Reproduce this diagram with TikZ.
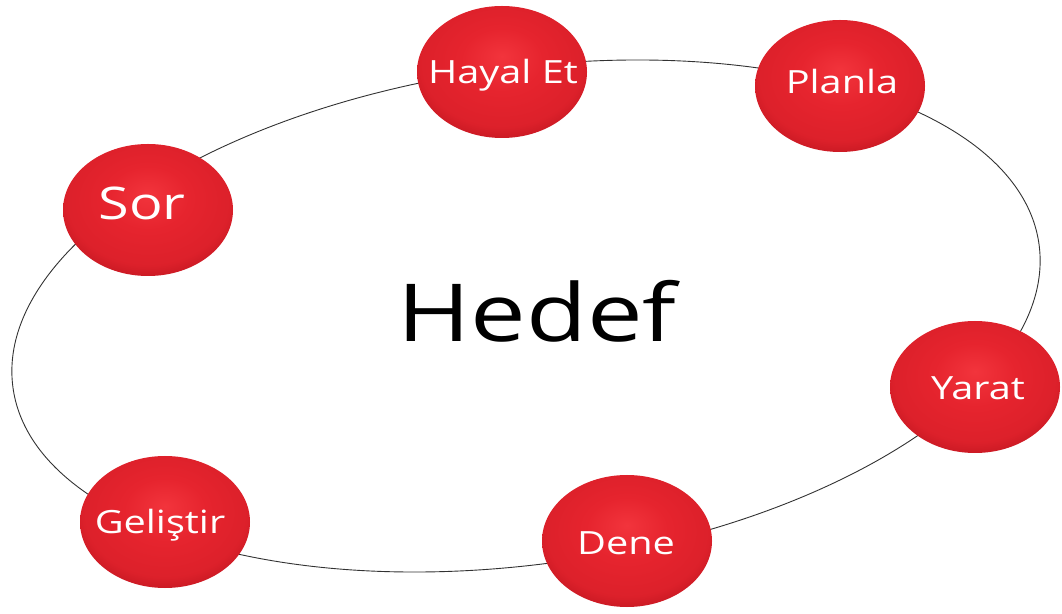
\documentclass[tikz,border=0pt]{standalone}
\usepackage{fontspec}
\setmainfont{Open Sans}
\usetikzlibrary{shapes.geometric}
\definecolor{rlight}{RGB}{242,52,60}
\definecolor{rmid}{RGB}{230,36,46}
\definecolor{rdark}{RGB}{198,24,34}
\definecolor{rdeep}{RGB}{172,18,28}
\definecolor{ringline}{RGB}{50,50,50}
\pgfdeclareradialshading{redsphere}{\pgfpoint{0bp}{6bp}}{color(0bp)=(rlight); color(12bp)=(rmid); color(24bp)=(rmid!70!rdark); color(29bp)=(rdark); color(32bp)=(rdeep); color(50bp)=(rdeep)}
\tikzset{
  sphere/.style={ellipse, draw=none, shading=redsphere, minimum width=170pt, minimum height=132pt, inner sep=0pt},
  lbl/.style={anchor=base, text=white, inner sep=0pt, font=\fontsize{32}{32}\selectfont},
  ring/.style={draw=ringline, line width=0.9pt}
}
\newcommand{\wide}[1]{\scalebox{1.24}[1]{#1}}
\begin{document}
\begin{tikzpicture}[x=1pt,y=1pt]
\useasboundingbox (0,0) rectangle (1062,613);
\draw[ring, rotate around={8:(526,297)}] (526,297) ellipse [x radius=518, y radius=248];
\node[sphere] (hayal) at (502,541) {};
\node[sphere] (planla) at (840,527) {};
\node[sphere] (sor) at (148,403) {};
\node[sphere] (yarat) at (975,226) {};
\node[sphere] (dene) at (627,72) {};
\node[sphere] (gelistir) at (165,91) {};
\node[lbl] (hayal-t) at (503,529.5) {\wide{Hayal Et}};
\node[lbl] (planla-t) at (842,519.5) {\wide{Planla}};
\node[lbl, font=\fontsize{45}{45}\selectfont] (sor-t) at (142,393) {\wide{Sor}};
\node[lbl] (yarat-t) at (978,213.5) {\wide{Yarat}};
\node[lbl] (dene-t) at (626,59) {\wide{Dene}};
\node[lbl] (gelistir-t) at (160,79.5) {\wide{Geliştir}};
\node[anchor=base, inner sep=0pt, font=\fontsize{80}{80}\selectfont] (hedef) at (537,271.5) {\wide{Hedef}};
\end{tikzpicture}
\end{document}
